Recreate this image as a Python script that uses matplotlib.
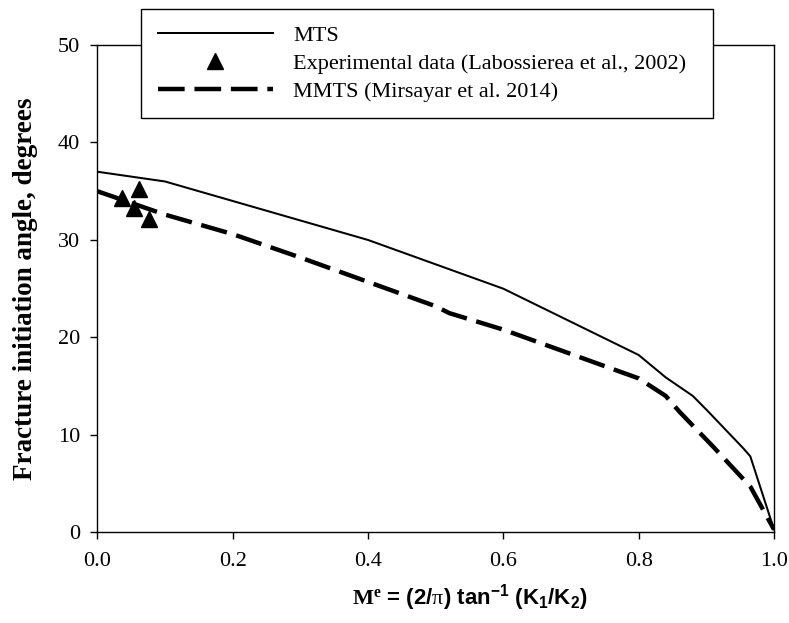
import matplotlib
matplotlib.use('Agg')
import matplotlib.pyplot as plt

# ---- data ----
mts_x = [0.0, 0.1, 0.4, 0.6, 0.8, 0.84, 0.88, 0.9, 0.955, 0.965, 1.0]
mts_y = [37.0, 36.0, 30.0, 25.0, 18.2, 15.9, 14.0, 12.6, 8.6, 7.8, 0.3]

mmts_x = [0.0, 0.1, 0.2, 0.3, 0.4, 0.5, 0.52, 0.6, 0.7, 0.8, 0.84, 0.86, 0.91, 0.965, 1.0]
mmts_y = [35.0, 32.6, 30.6, 28.2, 25.7, 23.2, 22.5, 20.8, 18.3, 15.8, 14.0, 12.4, 8.8, 4.7, 0.3]

exp_x = [0.037, 0.054, 0.062, 0.077]
exp_y = [34.3, 33.3, 35.2, 32.2]

x_ticks = [0.0, 0.2, 0.4, 0.6, 0.8, 1.0]
x_tick_labels = ['0.0', '0.2', '0.4', '0.6', '0.8', '1.0']
y_ticks = [0, 10, 20, 30, 40, 50]
y_tick_labels = ['0', '10', '20', '30', '40', '50']

labels = ['MTS', 'Experimental data (Labossierea et al., 2002)', 'MMTS (Mirsayar et al. 2014)']
y_label = 'Fracture initiation angle, degrees'
x_label = r'$\mathbf{M^{e}}$ = (2/$\mathsf{\pi}$) tan$^{-1}$ (K$_{1}$/K$_{2}$)'

plt.rcParams['font.family'] = ['Liberation Serif', 'DejaVu Serif']
plt.rcParams['mathtext.fontset'] = 'custom'
plt.rcParams['mathtext.rm'] = 'Liberation Sans:bold'
plt.rcParams['mathtext.it'] = 'Liberation Sans:bold'
plt.rcParams['mathtext.bf'] = 'Liberation Serif:bold'
plt.rcParams['mathtext.sf'] = 'Liberation Serif'

fig = plt.figure(figsize=(7.89, 6.23), dpi=100)
ax = fig.add_axes([0.1233, 0.1454, 0.8577, 0.7824])

l1, = ax.plot(mts_x, mts_y, color='black', lw=1.45, label=labels[0])
l3, = ax.plot(mmts_x, mmts_y, color='black', lw=3.2, dashes=(6, 2.2),
              dash_capstyle='butt', label=labels[2])
l2, = ax.plot(exp_x, exp_y, linestyle='none', marker='^', ms=11, color='black',
              label=labels[1], zorder=4)

ax.set_xlim(0, 1)
ax.set_ylim(0, 50)
ax.set_xticks(x_ticks)
ax.set_xticklabels(x_tick_labels)
ax.set_yticks(y_ticks)
ax.set_yticklabels(y_tick_labels)
ax.tick_params(direction='out', length=5, width=1, labelsize=16, colors='black')
ax.tick_params(axis='x', pad=9)
ax.tick_params(axis='y', pad=7.5)
for s in ax.spines.values():
    s.set_linewidth(1.0)
    s.set_color('black')

ax.set_ylabel(y_label, fontsize=19.5, fontweight='bold')
ax.yaxis.set_label_coords(-0.087, 0.5)

fig.text(0.596, 0.029, x_label, fontsize=16, fontweight='bold',
         family='Liberation Sans', ha='center', va='baseline')

leg = ax.legend([l1, l2, l3], labels, loc='upper left', mode='expand',
                bbox_to_anchor=(0.1787, 0.5, 0.725, 0.4856),
                bbox_transform=fig.transFigure, borderaxespad=0,
                fontsize=16, handlelength=5.2, handletextpad=0.9,
                labelspacing=0.32, borderpad=0.75, fancybox=False,
                framealpha=1, edgecolor='black', numpoints=1)
leg.get_frame().set_linewidth(1.0)

fig.savefig('out.png', dpi=100)
